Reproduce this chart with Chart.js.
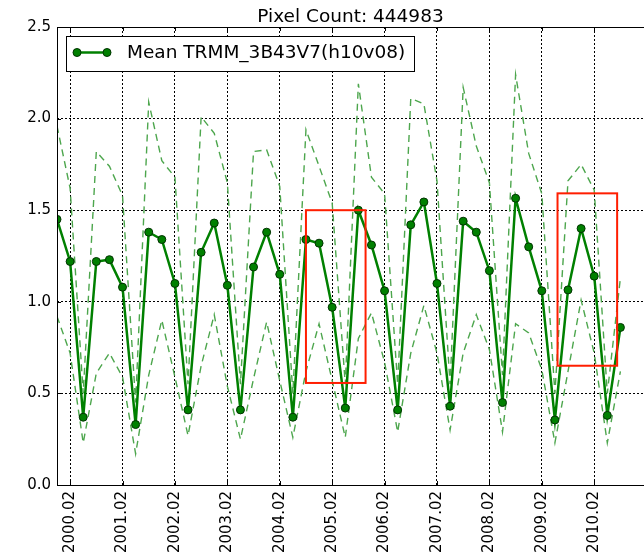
<!DOCTYPE html>
<html>
<head>
<meta charset="utf-8">
<script src="https://cdn.jsdelivr.net/npm/chart.js@4.4.1/dist/chart.umd.min.js"></script>
<style>
  html, body { margin: 0; padding: 0; background: #fff; }
  #wrap { width: 644px; height: 556px; }
</style>
</head>
<body>
<div id="wrap"><canvas id="trmmChart"></canvas></div>
<script>
// quarterly time steps (year.month)
const quarters = ["1999.11",
  "2000.02", "2000.05", "2000.08", "2000.11",
  "2001.02", "2001.05", "2001.08", "2001.11",
  "2002.02", "2002.05", "2002.08", "2002.11",
  "2003.02", "2003.05", "2003.08", "2003.11",
  "2004.02", "2004.05", "2004.08", "2004.11",
  "2005.02", "2005.05", "2005.08", "2005.11",
  "2006.02", "2006.05", "2006.08", "2006.11",
  "2007.02", "2007.05", "2007.08", "2007.11",
  "2008.02", "2008.05", "2008.08", "2008.11",
  "2009.02", "2009.05", "2009.08", "2009.11",
  "2010.02", "2010.05", "2010.08"];

// mean value and the two dashed envelopes
const meanValues = [1.45, 1.22, 0.37, 1.22, 1.23, 1.08, 0.33, 1.38, 1.34, 1.10,
  0.41, 1.27, 1.43, 1.09, 0.41, 1.19, 1.38, 1.15, 0.37, 1.34,
  1.32, 0.97, 0.42, 1.50, 1.31, 1.06, 0.41, 1.42, 1.545, 1.10,
  0.43, 1.44, 1.38, 1.17, 0.45, 1.565, 1.30, 1.06, 0.355, 1.065,
  1.40, 1.14, 0.38, 0.86];
const upperValues = [1.96, 1.62, 0.50, 1.82, 1.74, 1.58, 0.45, 2.09, 1.77, 1.68,
  0.55, 2.01, 1.92, 1.65, 0.55, 1.82, 1.83, 1.63, 0.50, 1.94,
  1.74, 1.54, 0.55, 2.19, 1.68, 1.59, 0.55, 2.11, 2.08, 1.66,
  0.55, 2.17, 1.85, 1.65, 0.60, 2.24, 1.81, 1.59, 0.50, 1.66,
  1.75, 1.61, 0.50, 1.13];
const lowerValues = [0.92, 0.72, 0.23, 0.61, 0.72, 0.59, 0.17, 0.60, 0.90, 0.59,
  0.27, 0.65, 0.93, 0.54, 0.25, 0.58, 0.89, 0.57, 0.26, 0.62,
  0.88, 0.57, 0.26, 0.80, 0.94, 0.67, 0.29, 0.72, 0.98, 0.72,
  0.30, 0.72, 0.93, 0.74, 0.29, 0.88, 0.83, 0.63, 0.23, 0.62,
  1.01, 0.72, 0.23, 0.62];

const yTicks = [0, 0.5, 1.0, 1.5, 2.0, 2.5];
const seriesLabel = "Mean TRMM_3B43V7(h10v08)";
const titleText = "Pixel Count: 444983";

// highlighted periods (x in quarter index, y in data units)
const boxes = [
  { x0: 19.0, x1: 23.55, y0: 0.557, y1: 1.50 },
  { x0: 38.2, x1: 42.75, y0: 0.651, y1: 1.592 }
];

const FONT = "DejaVu Sans";
const GREEN = "#008000";
const LIGHT = "rgb(77,166,77)";

const tickIdx = quarters.map((q, i) => q.endsWith(".02") ? i : -1).filter(i => i >= 0);
const toXY = arr => arr.map((v, i) => ({ x: i, y: v }));

const overlay = {
  id: "overlay",
  afterDatasetsDraw(chart) {
    const ctx = chart.ctx;
    const a = chart.chartArea;
    const xs = chart.scales.x, ys = chart.scales.y;
    ctx.save();

    // red rectangles
    ctx.strokeStyle = "rgb(255,30,0)";
    ctx.lineWidth = 2;
    boxes.forEach(b => {
      const px0 = xs.getPixelForValue(b.x0), px1 = xs.getPixelForValue(b.x1);
      const py0 = ys.getPixelForValue(b.y0), py1 = ys.getPixelForValue(b.y1);
      ctx.strokeRect(px0, py1, px1 - px0, py0 - py1);
    });

    // spines
    ctx.strokeStyle = "#000";
    ctx.lineWidth = 1;
    ctx.beginPath();
    ctx.moveTo(Math.round(a.left) + 0.5, a.top);
    ctx.lineTo(Math.round(a.left) + 0.5, a.bottom);
    ctx.moveTo(a.left, Math.round(a.bottom) + 0.5);
    ctx.lineTo(a.right, Math.round(a.bottom) + 0.5);
    ctx.moveTo(a.left, Math.round(a.top) + 0.5);
    ctx.lineTo(a.right, Math.round(a.top) + 0.5);
    ctx.stroke();

    // inward tick marks
    ctx.beginPath();
    tickIdx.forEach(i => {
      const px = Math.round(xs.getPixelForValue(i)) + 0.5;
      ctx.moveTo(px, a.bottom); ctx.lineTo(px, a.bottom - 4);
      ctx.moveTo(px, a.top); ctx.lineTo(px, a.top + 4);
    });
    yTicks.forEach(v => {
      const py = Math.round(ys.getPixelForValue(v)) + 0.5;
      ctx.moveTo(a.left, py); ctx.lineTo(a.left + 4, py);
    });
    ctx.stroke();

    // legend box
    const lx = 66, ly = 36, lw = 348, lh = 35;
    ctx.fillStyle = "#fff";
    ctx.fillRect(lx, ly, lw, lh);
    ctx.strokeStyle = "#000";
    ctx.strokeRect(lx + 0.5, ly + 0.5, lw, lh);
    const my = ly + 16.5;
    ctx.strokeStyle = GREEN;
    ctx.lineWidth = 2.5;
    ctx.beginPath();
    ctx.moveTo(77, my); ctx.lineTo(107, my);
    ctx.stroke();
    [77, 107].forEach(px => {
      ctx.beginPath();
      ctx.arc(px, my, 4, 0, Math.PI * 2);
      ctx.fillStyle = GREEN;
      ctx.fill();
      ctx.lineWidth = 1;
      ctx.strokeStyle = "#003300";
      ctx.stroke();
    });
    ctx.fillStyle = "#000";
    ctx.font = "18.5px '" + FONT + "'";
    ctx.textBaseline = "middle";
    ctx.textAlign = "left";
    ctx.fillText(seriesLabel, 127, my + 1);

    // title
    ctx.textAlign = "center";
    ctx.textBaseline = "alphabetic";
    ctx.fillText(titleText, (a.left + a.right) / 2, 22);
    ctx.restore();
  }
};

new Chart(document.getElementById("trmmChart"), {
  type: "line",
  data: {
    datasets: [
      {
        label: seriesLabel,
        data: toXY(meanValues),
        borderColor: GREEN,
        backgroundColor: GREEN,
        borderWidth: 2.5,
        pointRadius: 4,
        pointBorderWidth: 1,
        pointBorderColor: "#003300",
        pointBackgroundColor: GREEN,
        tension: 0
      },
      {
        label: "upper",
        data: toXY(upperValues),
        borderColor: LIGHT,
        borderWidth: 1.4,
        borderDash: [7, 5],
        pointRadius: 0,
        tension: 0
      },
      {
        label: "lower",
        data: toXY(lowerValues),
        borderColor: LIGHT,
        borderWidth: 1.4,
        borderDash: [7, 5],
        pointRadius: 0,
        tension: 0
      }
    ]
  },
  options: {
    responsive: true,
    maintainAspectRatio: false,
    animation: false,
    layout: { autoPadding: false, padding: { top: 27, left: 0, right: 0, bottom: 0 } },
    plugins: {
      legend: { display: false },
      title: { display: false },
      tooltip: { enabled: false }
    },
    scales: {
      x: {
        type: "linear",
        min: 0,
        max: 44.8,
        afterFit: s => { s.height = 71; s.paddingLeft = 0; s.paddingRight = 0; },
        afterBuildTicks: s => { s.ticks = tickIdx.map(v => ({ value: v })); },
        grid: { color: "#000", lineWidth: 1, drawTicks: false },
        border: { display: false, dash: [2, 2] },
        ticks: {
          autoSkip: false,
          minRotation: 90,
          maxRotation: 90,
          padding: 6,
          color: "#000",
          font: { family: FONT, size: 15 },
          callback: v => quarters[v]
        }
      },
      y: {
        min: 0,
        max: 2.5,
        afterFit: s => { s.width = 57; },
        afterBuildTicks: s => { s.ticks = yTicks.map(v => ({ value: v })); },
        grid: { color: "#000", lineWidth: 1, drawTicks: false },
        border: { display: false, dash: [2, 2] },
        ticks: {
          padding: 6,
          color: "#000",
          font: { family: FONT, size: 15 },
          callback: v => v.toFixed(1)
        }
      }
    }
  },
  plugins: [overlay]
});
</script>
</body>
</html>
